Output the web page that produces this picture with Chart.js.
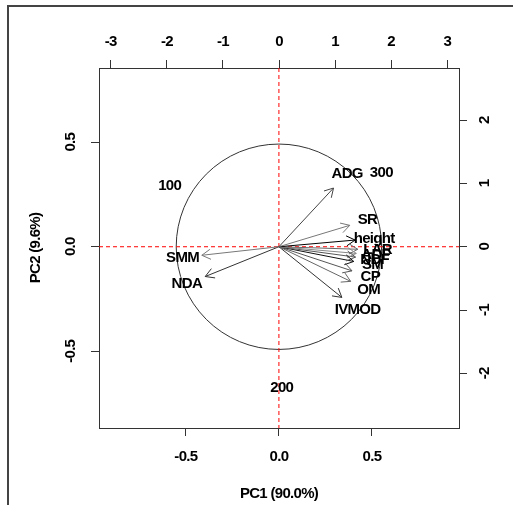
<!DOCTYPE html>
<html>
<head>
<meta charset="utf-8">
<script src="https://cdn.jsdelivr.net/npm/chart.js@4"></script>
<style>
  html, body { margin: 0; padding: 0; background: #fff; }
  #wrap { position: relative; width: 513px; height: 505px; overflow: hidden; }
  #frame { position: absolute; left: 7px; top: 5px; width: 600px; height: 600px;
           border-top: 2px solid #444; border-left: 2px solid #444; pointer-events: none; }
</style>
</head>
<body>
<div id="wrap">
  <canvas id="biplot" width="513" height="505"></canvas>
  <div id="frame"></div>
</div>
<script>
// variables (loadings) on PC1 / PC2
const varNames = ["ADG", "SR", "height", "LAR", "ADF", "NDF", "SM", "CP", "OM", "IVMOD", "SMM", "NDA"];
const varPC1 = [0.367, 0.476, 0.512, 0.53, 0.52, 0.515, 0.503, 0.491, 0.482, 0.423, -0.518, -0.495];
const varPC2 = [0.351, 0.128, 0.040, -0.015, -0.04, -0.062, -0.088, -0.144, -0.207, -0.303, -0.051, -0.178];
const varColors = ["#444", "#777", "#000", "#666", "#888", "#555", "#111", "#555", "#666", "#333", "#777", "#333"];
const arrowFrac = 0.8;

// observations on the top / right scales
const obsNames = ["100", "200", "300"];
const obsX = [-1.95, 0.05, 1.825];
const obsY = [0.96, -2.23, 1.16];

// axes
const pc1Ticks = [-0.5, 0, 0.5];
const pc2Ticks = [-0.5, 0, 0.5];
const topTicks = [-3, -2, -1, 0, 1, 2, 3];
const rightTicks = [-2, -1, 0, 1, 2];
const circleR = 0.552;

const FONT = "'Liberation Sans', Arial, sans-serif";
const tickFont = { family: FONT, size: 15, weight: "bold" };

const datasets = varNames.map((n, i) => ({
  label: n,
  data: [{ x: 0, y: 0 }, { x: varPC1[i] * arrowFrac, y: varPC2[i] * arrowFrac }],
  showLine: true,
  borderColor: varColors[i],
  borderWidth: 1,
  pointRadius: 0,
  xAxisID: "x",
  yAxisID: "y",
}));
datasets.push({
  label: "obs",
  data: obsX.map((v, i) => ({ x: v, y: obsY[i] })),
  pointRadius: 0,
  xAxisID: "x2",
  yAxisID: "y2",
});

const biplotExtras = {
  id: "biplotExtras",
  beforeDraw(chart) {
    chart.ctx.letterSpacing = "-0.7px";
  },
  beforeDatasetsDraw(chart) {
    const { ctx, chartArea: a, scales } = chart;
    const x = scales.x, y = scales.y;
    const x0 = x.getPixelForValue(0), y0 = y.getPixelForValue(0);
    ctx.save();
    // circle
    const r = x.getPixelForValue(circleR) - x0;
    ctx.strokeStyle = "#333";
    ctx.lineWidth = 1;
    ctx.beginPath();
    ctx.arc(x0, y0, r, 0, Math.PI * 2);
    ctx.stroke();
    // red dashed zero lines
    ctx.strokeStyle = "#ff0000";
    ctx.setLineDash([4, 3]);
    ctx.beginPath();
    ctx.moveTo(a.left, y0); ctx.lineTo(a.right, y0);
    ctx.moveTo(x0, a.top); ctx.lineTo(x0, a.bottom);
    ctx.stroke();
    ctx.restore();
  },
  afterDatasetsDraw(chart) {
    const { ctx, chartArea: a, scales } = chart;
    const x = scales.x, y = scales.y;
    const x0 = x.getPixelForValue(0), y0 = y.getPixelForValue(0);
    ctx.save();
    // arrow heads
    varNames.forEach((n, i) => {
      const tx = x.getPixelForValue(varPC1[i] * arrowFrac);
      const ty = y.getPixelForValue(varPC2[i] * arrowFrac);
      const ang = Math.atan2(ty - y0, tx - x0);
      const len = 10, spread = Math.PI / 6;
      ctx.strokeStyle = varColors[i];
      ctx.lineWidth = 1;
      ctx.beginPath();
      ctx.moveTo(tx - len * Math.cos(ang - spread), ty - len * Math.sin(ang - spread));
      ctx.lineTo(tx, ty);
      ctx.lineTo(tx - len * Math.cos(ang + spread), ty - len * Math.sin(ang + spread));
      ctx.stroke();
    });
    // labels
    ctx.fillStyle = "#000";
    ctx.font = "bold 15px " + FONT;
    ctx.textAlign = "center";
    ctx.textBaseline = "middle";
    varNames.forEach((n, i) => {
      ctx.fillText(n, x.getPixelForValue(varPC1[i]), y.getPixelForValue(varPC2[i]));
    });
    obsNames.forEach((n, i) => {
      ctx.fillText(n, scales.x2.getPixelForValue(obsX[i]), scales.y2.getPixelForValue(obsY[i]));
    });
    // rotated tick labels on the vertical axes
    pc2Ticks.forEach(v => {
      ctx.save();
      ctx.translate(a.left - 28, y.getPixelForValue(v));
      ctx.rotate(-Math.PI / 2);
      ctx.fillText(v.toFixed(1), 0, 0);
      ctx.restore();
    });
    rightTicks.forEach(v => {
      ctx.save();
      ctx.translate(a.right + 26, scales.y2.getPixelForValue(v));
      ctx.rotate(-Math.PI / 2);
      ctx.fillText(String(v), 0, 0);
      ctx.restore();
    });
    ctx.restore();
  },
};

const axisGrid = { drawOnChartArea: false, tickLength: 8, color: "#333" };
const axisBorder = { color: "#333", width: 1 };

new Chart(document.getElementById("biplot"), {
  type: "scatter",
  data: { datasets },
  options: {
    responsive: false,
    animation: false,
    layout: { padding: 0 },
    plugins: { legend: { display: false }, tooltip: { enabled: false } },
    scales: {
      x: {
        type: "linear", position: "bottom", min: -0.967, max: 0.968,
        afterBuildTicks: s => { s.ticks = pc1Ticks.map(v => ({ value: v })); },
        ticks: { font: tickFont, color: "#000", padding: 12, maxRotation: 0, callback: v => v.toFixed(1) },
        grid: axisGrid, border: axisBorder,
        title: { display: true, text: "PC1 (90.0%)", font: tickFont, color: "#000", padding: { top: 0, bottom: 2 } },
        afterFit: s => { s.height = 77; },
      },
      x2: {
        type: "linear", position: "top", min: -3.21, max: 3.21,
        afterBuildTicks: s => { s.ticks = topTicks.map(v => ({ value: v })); },
        ticks: { font: tickFont, color: "#000", padding: 9, maxRotation: 0, callback: v => String(v) },
        grid: axisGrid, border: axisBorder,
        afterFit: s => { s.height = 68; },
      },
      y: {
        type: "linear", position: "left", min: -0.867, max: 0.855,
        afterBuildTicks: s => { s.ticks = pc2Ticks.map(v => ({ value: v })); },
        ticks: { display: false },
        grid: axisGrid, border: axisBorder,
        title: { display: true, text: "PC2 (9.6%)", font: tickFont, color: "#000", padding: { top: 27, bottom: 0 } },
        afterFit: s => { s.width = 99; },
      },
      y2: {
        type: "linear", position: "right", min: -2.864, max: 2.823,
        afterBuildTicks: s => { s.ticks = rightTicks.map(v => ({ value: v })); },
        ticks: { display: false },
        grid: axisGrid, border: axisBorder,
        afterFit: s => { s.width = 54; },
      },
    },
  },
  plugins: [biplotExtras],
});
</script>
</body>
</html>
